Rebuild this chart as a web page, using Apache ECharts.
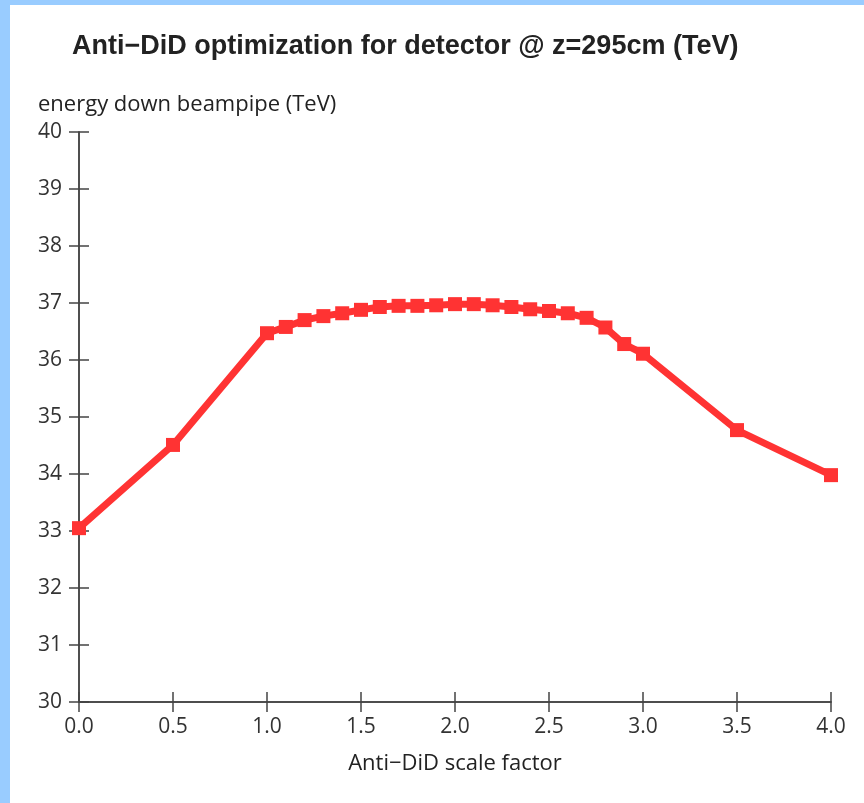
<!DOCTYPE html>
<html>
<head>
<meta charset="utf-8">
<script src="https://cdn.jsdelivr.net/npm/echarts@6/dist/echarts.min.js"></script>
<style>
  html, body { margin: 0; padding: 0; background: #99ccff; width: 864px; height: 803px; overflow: hidden; }
  #chart { position: absolute; left: 10px; top: 5px; width: 854px; height: 798px; background: #ffffff; }
</style>
</head>
<body>
<div id="chart"></div>
<script>
const scaleFactor = [0.0, 0.5, 1.0, 1.1, 1.2, 1.3, 1.4, 1.5, 1.6, 1.7, 1.8, 1.9, 2.0, 2.1, 2.2, 2.3, 2.4, 2.5, 2.6, 2.7, 2.8, 2.9, 3.0, 3.5, 4.0];
const energy = [33.05, 34.51, 36.47, 36.58, 36.70, 36.77, 36.82, 36.88, 36.93, 36.95, 36.95, 36.96, 36.98, 36.98, 36.96, 36.93, 36.89, 36.86, 36.82, 36.74, 36.57, 36.28, 36.11, 34.77, 33.98];
const titleText = 'Anti\u2212DiD optimization for detector @ z=295cm (TeV)';
const yName = 'energy down beampipe (TeV)';
const xName = 'Anti\u2212DiD scale factor';

const chart = echarts.init(document.getElementById('chart'), null, { renderer: 'canvas' });
const axisColor = '#444444';
const titleFont = 'Liberation Sans, Arial, Helvetica, sans-serif';
const font = 'Open Sans, Liberation Sans, Arial, sans-serif';

const baseX = {
  type: 'value', min: 0, max: 4, interval: 0.5, position: 'bottom',
  splitLine: { show: false },
  axisLine: { onZero: false, lineStyle: { color: axisColor, width: 1.5 } }
};
const baseY = {
  type: 'value', min: 30, max: 40, interval: 1, position: 'left',
  splitLine: { show: false },
  axisLine: { onZero: false, lineStyle: { color: axisColor, width: 1.5 } }
};

chart.setOption({
  animation: false,
  title: [
    { text: titleText, left: 57, top: 23, textStyle: { fontFamily: titleFont, fontSize: 27, fontWeight: 'bold', color: '#222222' } },
    { text: yName, left: 23, top: 84, textStyle: { fontFamily: font, fontSize: 22, fontWeight: 'normal', color: '#222222' } }
  ],
  grid: { left: 69, right: 33, top: 127, bottom: 101, containLabel: false },
  xAxis: [
    Object.assign({}, baseX, {
      name: xName, nameLocation: 'middle', nameGap: 51,
      nameTextStyle: { fontFamily: font, fontSize: 22, color: '#222222' },
      axisTick: { show: true, inside: false, length: 10, lineStyle: { color: axisColor, width: 1.5 } },
      axisLabel: { fontFamily: font, fontSize: 21, color: '#333333', margin: 15, formatter: v => v.toFixed(1) }
    }),
    Object.assign({}, baseX, {
      axisTick: { show: true, inside: true, length: 10, lineStyle: { color: axisColor, width: 1.5 } },
      axisLabel: { show: false }
    })
  ],
  yAxis: [
    Object.assign({}, baseY, {
      axisTick: { show: true, inside: false, length: 10, lineStyle: { color: axisColor, width: 1.5 } },
      axisLabel: { fontFamily: font, fontSize: 21, color: '#333333', margin: 17 }
    }),
    Object.assign({}, baseY, {
      axisTick: { show: true, inside: true, length: 10, lineStyle: { color: axisColor, width: 1.5 } },
      axisLabel: { show: false }
    })
  ],
  series: [{
    type: 'line',
    xAxisIndex: 0, yAxisIndex: 0,
    data: scaleFactor.map((x, i) => [x, energy[i]]),
    symbol: 'rect', symbolSize: 14,
    showAllSymbol: true,
    itemStyle: { color: '#ff3333' },
    lineStyle: { color: '#ff3333', width: 7 },
    clip: false
  }]
});
</script>
</body>
</html>
